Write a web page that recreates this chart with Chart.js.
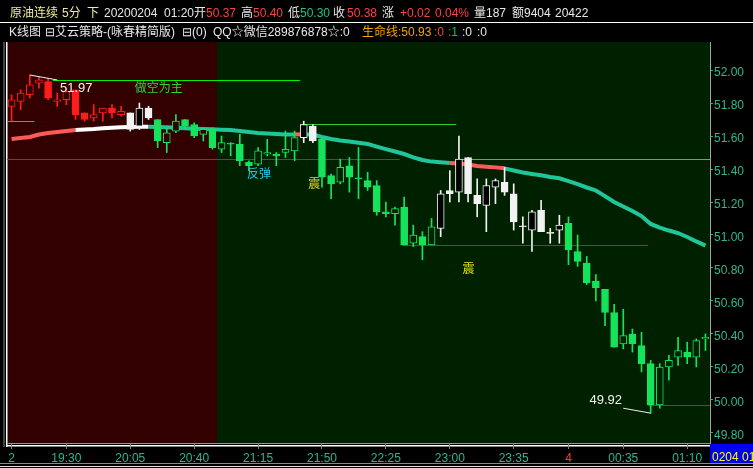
<!DOCTYPE html>
<html>
<head>
<meta charset="utf-8">
<script src="https://cdn.jsdelivr.net/npm/chart.js@4.4.1/dist/chart.umd.min.js"></script>
<style>
  html, body { margin: 0; padding: 0; background: #000; }
  #wrap { position: relative; width: 753px; height: 468px; overflow: hidden;
          font-family: "Liberation Sans", "Noto Sans CJK SC", sans-serif; font-size: 12px; }
  #wrap canvas { position: absolute; left: 0; top: 0; }
  .t { position: absolute; white-space: nowrap; line-height: 14px; }
  .r1 { top: 6px; } .r2 { top: 25px; }
  .w { color: #e8e8e8; } .rd { color: #ff4040; } .gr { color: #22c47a; } .yl { color: #ecec9c; }
</style>
</head>
<body>
<div id="wrap">
  <canvas id="k" width="753" height="468"></canvas>

  <div class="t r1 yl" style="left:10px">原油连续</div>
  <div class="t r1 yl" style="left:62px">5分</div>
  <div class="t r1 yl" style="left:87px">下</div>
  <div class="t r1 w" style="left:104px">20200204</div>
  <div class="t r1 w" style="left:164px">01:20开</div>
  <div class="t r1 rd" style="left:206px">50.37</div>
  <div class="t r1 w" style="left:241px">高</div>
  <div class="t r1 rd" style="left:253px">50.40</div>
  <div class="t r1 w" style="left:288px">低</div>
  <div class="t r1 gr" style="left:300px">50.30</div>
  <div class="t r1 w" style="left:333px">收</div>
  <div class="t r1 rd" style="left:347px">50.38</div>
  <div class="t r1 w" style="left:382px">涨</div>
  <div class="t r1 rd" style="left:400px">+0.02</div>
  <div class="t r1 rd" style="left:435px">0.04%</div>
  <div class="t r1 w" style="left:474px">量187</div>
  <div class="t r1 w" style="left:512px">额9404</div>
  <div class="t r1 w" style="left:555px">20422</div>
  <div style="position:absolute;left:0;top:22px;width:753px;height:1px;background:#fff"></div>

  <div class="t r2 w" style="left:9px">K线图</div>
  <div class="t r2 w" style="left:45px">⊟艾云策略-(咏春精简版)</div>
  <div class="t r2 w" style="left:182px">⊟(0)</div>
  <div class="t r2 w" style="left:213px">QQ☆微信289876878☆:0</div>
  <div class="t r2" style="left:362px;color:#f5a300">生命线:50.93</div>
  <div class="t r2 rd" style="left:434px">:0</div>
  <div class="t r2" style="left:448px;color:#20c040">:1</div>
  <div class="t r2 w" style="left:462px">:0</div>
  <div class="t r2 w" style="left:477px">:0</div>

  <div style="position:absolute;left:710px;top:444px;width:43px;height:19px;background:#0000f0"></div>
  <div class="t" style="left:712px;top:450px;color:#ffff00">0204 01</div>
  <div style="position:absolute;left:0;top:463px;width:753px;height:1px;background:#2ab890"></div>
  <div style="position:absolute;left:0;top:466px;width:753px;height:1px;background:#ddd"></div>
</div>

<script>
// 5分钟K线 19:00 - 01:20
const times = [
  "19:00","19:05","19:10","19:15","19:20","19:25","19:30","19:35","19:40","19:45","19:50","19:55",
  "20:00","20:05","20:10","20:15","20:20","20:25","20:30","20:35","20:40","20:45","20:50","20:55",
  "21:00","21:05","21:10","21:15","21:20","21:25","21:30","21:35","21:40","21:45","21:50","21:55",
  "22:00","22:05","22:10","22:15","22:20","22:25","22:30","22:35","22:40","22:45","22:50","22:55",
  "23:00","23:05","23:10","23:15","23:20","23:25","23:30","23:35","23:40","23:45","23:50","23:55",
  "00:00","00:05","00:10","00:15","00:20","00:25","00:30","00:35","00:40","00:45","00:50","00:55",
  "01:00","01:05","01:10","01:15","01:20"
];

const opens = [
  51.78,51.81,51.85,51.92,51.93,51.81,51.82,51.88,51.74,51.71,51.74,51.77,51.73,
  51.74,51.66,51.77,51.70,51.56,51.63,51.70,51.67,51.61,51.64,51.52,51.55,51.55,
  51.44,51.43,51.49,51.49,51.50,51.51,51.59,51.66,51.58,51.36,51.32,51.42,51.34,
  51.33,51.30,51.14,51.13,51.17,50.95,50.99,50.94,51.04,51.27,51.26,51.47,51.24,
  51.18,51.29,51.32,51.25,51.05,51.03,51.15,51.01,51.03,51.07,50.90,50.83,50.72,
  50.67,50.53,50.34,50.40,50.33,50.22,49.97,50.20,50.26,50.29,50.26,50.37
];
const highs = [
  51.85,51.88,51.97,51.96,51.95,51.86,51.89,51.88,51.74,51.79,51.77,51.79,51.78,
  51.74,51.80,51.78,51.70,51.65,51.73,51.70,51.68,51.65,51.65,51.60,51.56,51.61,
  51.45,51.53,51.58,51.50,51.63,51.63,51.69,51.67,51.59,51.37,51.46,51.47,51.53,
  51.38,51.33,51.20,51.17,51.23,51.06,51.02,51.10,51.27,51.39,51.60,51.47,51.34,
  51.34,51.34,51.41,51.31,51.11,51.15,51.21,51.04,51.12,51.11,51.00,50.87,50.76,
  50.67,50.58,50.55,50.43,50.41,50.24,50.22,50.27,50.38,50.35,50.37,50.40
];
const lows = [
  51.69,51.76,51.83,51.89,51.82,51.78,51.79,51.70,51.69,51.69,51.69,51.71,51.72,
  51.63,51.64,51.70,51.53,51.50,51.62,51.64,51.59,51.57,51.52,51.50,51.48,51.42,
  51.39,51.42,51.48,51.42,51.47,51.45,51.56,51.56,51.29,51.22,51.31,51.26,51.22,
  51.27,51.12,51.11,51.06,50.94,50.93,50.85,50.94,50.99,51.20,51.20,51.20,51.11,
  51.02,51.19,51.24,51.03,50.95,50.90,51.02,50.95,50.95,50.82,50.81,50.70,50.60,
  50.45,50.32,50.31,50.29,50.17,49.92,49.95,50.12,50.21,50.22,50.20,50.30
];
const closes = [
  51.82,51.86,51.91,51.94,51.83,51.82,51.87,51.73,51.70,51.73,51.77,51.74,51.75,
  51.64,51.77,51.71,51.57,51.62,51.69,51.66,51.60,51.64,51.53,51.56,51.55,51.45,
  51.42,51.51,51.50,51.48,51.52,51.59,51.67,51.57,51.35,51.31,51.41,51.35,51.34,
  51.29,51.14,51.13,51.16,50.94,51.00,50.94,51.05,51.25,51.25,51.46,51.25,51.19,
  51.30,51.33,51.26,51.08,51.05,51.14,51.02,51.01,51.06,50.91,50.84,50.71,50.68,
  50.53,50.32,50.39,50.34,50.22,49.97,50.20,50.24,50.30,50.26,50.36,50.38
];
// 生命线
const lifeLine = [
  51.582,51.588,51.594,51.609,51.618,51.624,51.630,51.636,51.639,51.642,51.647,51.650,51.653,
  51.655,51.656,51.656,51.655,51.653,51.650,51.647,51.644,51.642,51.641,51.638,51.636,51.630,
  51.624,51.618,51.615,51.612,51.610,51.610,51.610,51.609,51.594,51.582,51.573,51.567,51.559,
  51.552,51.536,51.521,51.506,51.491,51.471,51.455,51.445,51.441,51.436,51.433,51.427,51.418,
  51.414,51.410,51.404,51.391,51.379,51.370,51.362,51.352,51.344,51.327,51.309,51.288,51.270,
  51.236,51.200,51.173,51.145,51.115,51.067,51.045,51.027,51.012,50.988,50.961,50.936
];
// 价位线
const levels = [51.94, 51.69, 51.46, 51.67, 50.94, 49.97];
const yTicks = [49.8, 50.0, 50.2, 50.4, 50.6, 50.8, 51.0, 51.2, 51.4, 51.6, 51.8, 52.0];
const xTickIndex = [0, 6, 13, 20, 27, 34, 41, 48, 55, 61, 67, 74];
const xTickText = ["2","19:30","20:05","20:40","21:15","21:50","22:25","23:00","23:35","4","00:35","01:10"];

const RED = "#ff1c1c", WHITE = "#f2f2f2", GREEN = "#16e35c";
const BG_RED = "#330000", BG_GREEN = "#002100";
const FONT = "'Liberation Sans', 'Noto Sans CJK SC', sans-serif";

function colorOf(i) {
  if (i <= 12) return RED;
  if ((i >= 13 && i <= 15) || (i >= 32 && i <= 33) || (i >= 47 && i <= 60)) return WHITE;
  return GREEN;
}
function fillOf(i) {
  if (closes[i] <= opens[i]) return colorOf(i);   // 阴线实心
  if (colorOf(i) === WHITE) return "#000";
  return i <= 22 ? BG_RED : BG_GREEN;
}
function lifeColor(i) {
  if (i < 7) return "#ff5a5a";
  if (i < 15) return "#ffffff";
  if (i === 31) return "#ff5a5a";
  if (i >= 48 && i < 54) return "#ff5a5a";
  return "#1fc69a";
}

const bgPlugin = {
  id: "bg",
  beforeDraw(c) {
    const { ctx, chartArea: a, scales: { x } } = c;
    ctx.save();
    ctx.fillStyle = "#000";
    ctx.fillRect(0, 0, c.width, c.height);
    const split = (x.getPixelForValue(22) + x.getPixelForValue(23)) / 2;
    ctx.fillStyle = BG_RED;
    ctx.fillRect(a.left, a.top, split - a.left, a.bottom - a.top);
    ctx.fillStyle = BG_GREEN;
    ctx.fillRect(split, a.top, a.right - split, a.bottom - a.top);
    ctx.fillStyle = "#444";
    ctx.fillRect(3, a.top, 2, a.bottom - a.top + 3);
    ctx.fillStyle = "#fff";
    ctx.fillRect(6, a.top, 1.5, a.bottom - a.top + 3);
    ctx.fillStyle = "#8a9a8a";
    ctx.fillRect(a.left, a.bottom - 1, a.right - a.left, 1);
    ctx.fillStyle = "#fff";
    ctx.fillRect(a.left, a.bottom + 1, a.right - a.left, 1.5);
    ctx.restore();
  }
};

const notesPlugin = {
  id: "notes",
  beforeDatasetsDraw(c) {
    const { ctx, scales: { x, y } } = c;
    const seg = (v, i0, i1, col) => {
      const py = Math.round(y.getPixelForValue(v)) + 0.5;
      ctx.strokeStyle = col;
      ctx.beginPath();
      ctx.moveTo(x.getPixelForValue(i0), py);
      ctx.lineTo(x.getPixelForValue(i1), py);
      ctx.stroke();
    };
    ctx.save();
    ctx.lineWidth = 1;
    seg(levels[0], 4.5, 31.6, "#00f000");
    seg(levels[1], -0.5, 2.5, "#22cc22");
    seg(levels[2], -0.5, 42.5, "#dd1010");
    seg(levels[3], 31.6, 48.7, "#33cc33");
    seg(levels[2], 48.9, 76.5, "#33cc33");
    seg(levels[4], 42.8, 69.7, "#dd1010");
    seg(levels[5], 69.7, 76.5, "#dd1010");
    ctx.restore();
  },
  afterDatasetsDraw(c) {
    const { ctx, scales: { x, y } } = c;
    const hi = Math.max(...highs), lo = Math.min(...lows);
    const hiIdx = highs.indexOf(hi), loIdx = lows.indexOf(lo);
    ctx.save();
    ctx.strokeStyle = "#f0f0f0";
    ctx.lineWidth = 1;
    ctx.beginPath();
    ctx.moveTo(x.getPixelForValue(hiIdx), y.getPixelForValue(hi));
    ctx.lineTo(x.getPixelForValue(hiIdx + 3), y.getPixelForValue(hi - 0.03));
    ctx.moveTo(x.getPixelForValue(loIdx - 3), y.getPixelForValue(lo + 0.03));
    ctx.lineTo(x.getPixelForValue(loIdx), y.getPixelForValue(lo));
    ctx.stroke();

    ctx.textBaseline = "middle";
    ctx.textAlign = "left";
    const txt = (s, i, v, col, size) => {
      ctx.font = size + "px " + FONT;
      ctx.fillStyle = col;
      ctx.fillText(s, x.getPixelForValue(i), y.getPixelForValue(v));
    };
    txt(hi.toFixed(2), 5.3, 51.89, "#f0f0f0", 13);
    txt("做空为主", 13.5, 51.89, "#2cd62c", 12);
    txt("反弹", 25.8, 51.364, "#18c8f0", 12);
    txt("震", 32.5, 51.303, "#e8e020", 12);
    txt("震", 49.4, 50.788, "#e8e020", 12);
    txt(lo.toFixed(2), 63.3, 50.0, "#f0f0f0", 13);
    ctx.restore();
  }
};

new Chart(document.getElementById("k"), {
  data: {
    labels: times,
    datasets: [
      {
        type: "line",
        data: lifeLine,
        borderColor: "#1fc69a",
        borderWidth: 4,
        pointRadius: 0,
        tension: 0,
        segment: { borderColor: s => lifeColor(s.p0DataIndex) },
        order: 3
      },
      {
        type: "bar",
        data: highs.map((h, i) => [lows[i], h]),
        backgroundColor: times.map((t, i) => colorOf(i)),
        barThickness: 1,
        grouped: false,
        order: 2
      },
      {
        type: "bar",
        data: opens.map((o, i) => [o, closes[i]]),
        backgroundColor: times.map((t, i) => fillOf(i)),
        borderColor: times.map((t, i) => colorOf(i)),
        borderWidth: 1,
        borderSkipped: false,
        barThickness: 7,
        minBarLength: 1,
        grouped: false,
        order: 1
      }
    ]
  },
  options: {
    responsive: false,
    animation: false,
    events: [],
    layout: { padding: { top: 42, left: 7, right: 0, bottom: 0 } },
    plugins: { legend: { display: false }, tooltip: { enabled: false } },
    scales: {
      x: {
        offset: true,
        afterFit: s => { s.height = 24; },
        border: { display: false },
        grid: {
          offset: false,
          drawOnChartArea: false,
          tickLength: 5,
          tickColor: c => (c.tick && c.tick.label) ? "#7a8a7a" : "rgba(0,0,0,0)"
        },
        ticks: {
          autoSkip: false,
          maxRotation: 0,
          padding: 2,
          font: { size: 12, family: FONT },
          color: c => (c.tick && c.tick.label === "4") ? "#ff3a3a" : "#2ab890",
          callback: (v, i) => {
            const k = xTickIndex.indexOf(i);
            return k < 0 ? "" : xTickText[k];
          }
        }
      },
      y: {
        position: "right",
        min: 49.733,
        max: 52.17,
        afterBuildTicks: s => { s.ticks = yTicks.map(v => ({ value: v })); },
        afterFit: s => { s.width = 43; },
        border: { display: true, color: "#9aaa9a", width: 1 },
        grid: { drawOnChartArea: false, tickLength: 3, color: "#4a9a7a" },
        ticks: {
          color: "#2fb88a",
          padding: 1,
          labelOffset: 3,
          font: { size: 12, family: FONT },
          callback: v => Number(v).toFixed(2)
        }
      }
    }
  },
  plugins: [bgPlugin, notesPlugin]
});
</script>
</body>
</html>
